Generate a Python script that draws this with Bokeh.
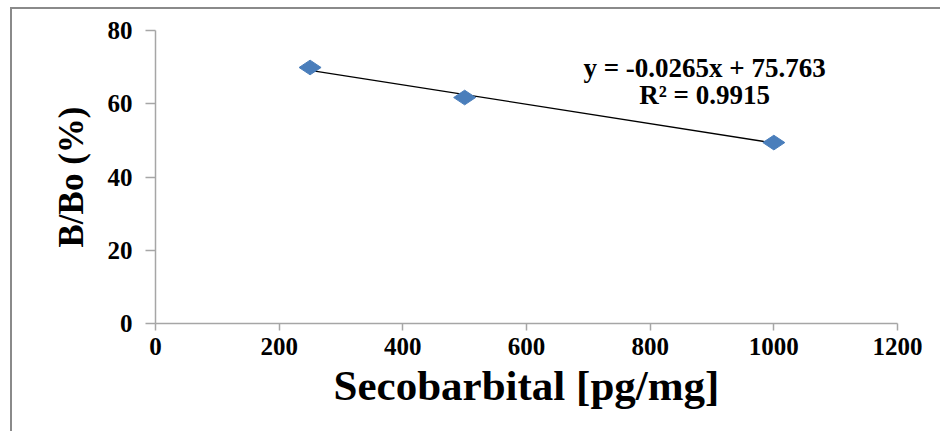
from bokeh.plotting import figure
from bokeh.models import Label, Range1d, FixedTicker
from bokeh.embed import file_html
from bokeh.resources import INLINE

# data
conc = [250, 500, 1000]
b_b0 = [69.9, 61.7, 49.4]
slope = -0.0265
intercept = 75.763
eq_text = "y = -0.0265x + 75.763"
r2_text = "R² = 0.9915"
x_ticks = [0, 200, 400, 600, 800, 1000, 1200]
y_ticks = [0, 20, 40, 60, 80]

FONT = "Liberation Serif"

p = figure(width=930, height=424, output_backend="svg", toolbar_location=None,
           x_range=Range1d(0, 1200), y_range=Range1d(0, 80),
           min_border_left=143, min_border_right=45, min_border_top=21, min_border_bottom=110)
p.styles = {"border-left": "2px solid #8a8a8a", "border-top": "2px solid #8a8a8a",
            "margin-left": "10px", "margin-top": "7px"}
p.outline_line_color = None
p.grid.visible = False

for ax in (p.xaxis[0], p.yaxis[0]):
    ax.axis_line_color = "#a6a6a6"
    ax.axis_line_width = 1.5
    ax.major_tick_line_color = "#a6a6a6"
    ax.major_tick_line_width = 1.5
    ax.minor_tick_line_color = None
    ax.major_tick_in = 0
    ax.major_label_text_font = FONT
    ax.major_label_text_font_style = "bold"
    ax.major_label_text_font_size = "25px"
    ax.major_label_text_color = "black"
    ax.axis_label_text_font = FONT
    ax.axis_label_text_font_style = "bold"
    ax.axis_label_text_color = "black"

p.xaxis.ticker = FixedTicker(ticks=x_ticks)
p.yaxis.ticker = FixedTicker(ticks=y_ticks)
p.xaxis.major_tick_out = 7
p.yaxis.major_tick_out = 10
p.xaxis.major_label_standoff = 7
p.yaxis.major_label_standoff = 13
p.xaxis.axis_label = "Secobarbital [pg/mg]"
p.yaxis.axis_label = "B/Bo (%)"
p.xaxis.axis_label_text_font_size = "43px"
p.yaxis.axis_label_text_font_size = "35px"
p.xaxis.axis_label_standoff = 4
p.yaxis.axis_label_standoff = 14

# trendline
tx = [conc[0], conc[-1]]
ty = [slope * v + intercept for v in tx]
p.line(tx, ty, line_color="black", line_width=1.3)

p.scatter(conc, b_b0, marker="diamond", size=22, angle=1.5708,
          fill_color="#4a7ebb", line_color="#4a7ebb")

for txt, yv in ((eq_text, 69.8), (r2_text, 62.3)):
    p.add_layout(Label(x=888, y=yv, text=txt, text_font=FONT, text_font_style="bold",
                       text_font_size="27px", text_align="center", text_baseline="middle",
                       text_color="black"))

open("out.html", "w").write(file_html(p, INLINE))
